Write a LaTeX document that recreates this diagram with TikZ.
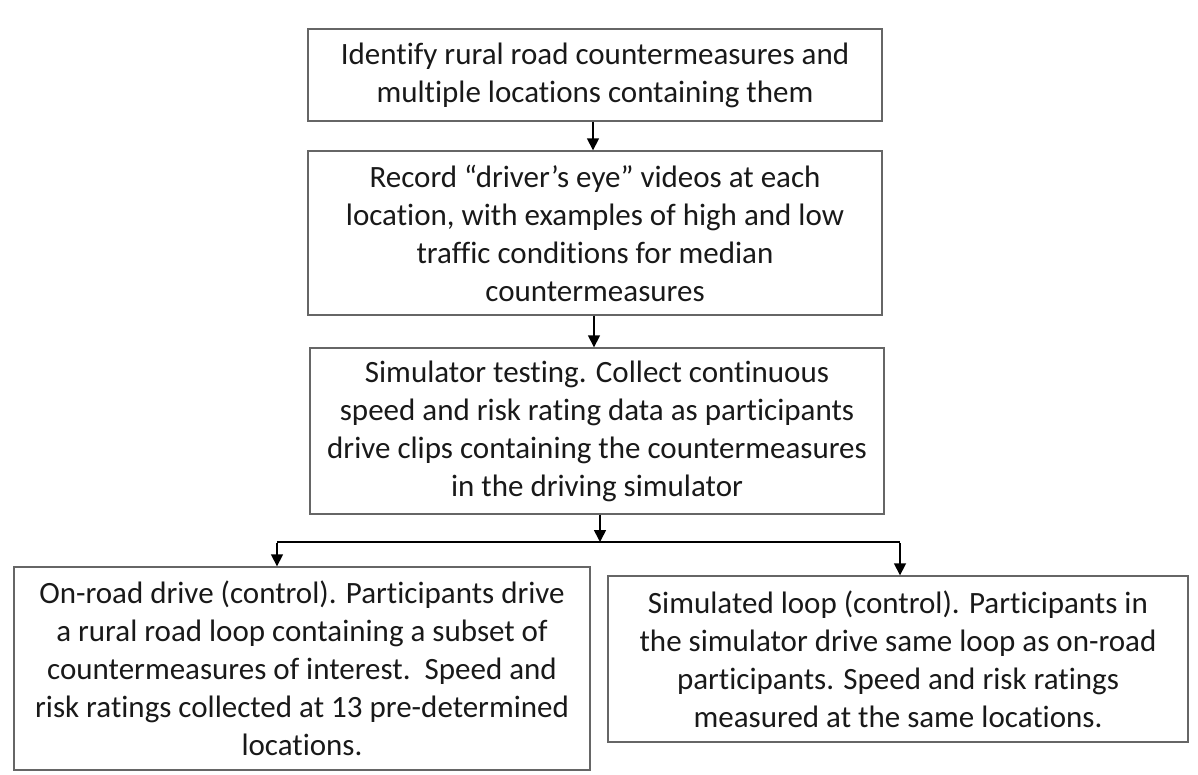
\documentclass[tikz,border=0pt]{standalone}
\usepackage{fontspec}
\setmainfont{Carlito}[Ligatures=NoCommon]
\usetikzlibrary{arrows.meta}
\begin{document}
\begin{tikzpicture}[x=1pt,y=-1pt,
  box/.style={draw=black!60,line width=1.4pt,align=center,inner sep=0pt,
    font=\fontsize{31}{38}\selectfont,text=black!90},
  conn/.style={line width=1.6pt,-{Triangle[length=12pt,width=12pt]}},
  plain/.style={line width=1.6pt}]
\useasboundingbox (0,0) rectangle (1198,774);
\node[box,minimum width=574pt,minimum height=92pt] (b1) at (595,75)
 {Identify rural road countermeasures and\\multiple locations containing them};
\node[box,minimum width=574pt,minimum height=164pt] (b2) at (595,233)
 {Record “driver’s eye” videos at each\\location, with examples of high and low\\traffic conditions for median\\countermeasures};
\node[box,minimum width=574pt,minimum height=166pt] (b3) at (597,431)
 {Simulator testing. Collect continuous\\speed and risk rating data as participants\\drive clips containing the countermeasures\\in the driving simulator};
\node[box,minimum width=576pt,minimum height=203pt] (b4) at (302,668.5)
 {On-road drive (control). Participants drive\\a rural road loop containing a subset of\\countermeasures of interest.\ \ Speed and\\risk ratings collected at 13 pre-determined\\locations.};
\node[box,minimum width=580pt,minimum height=166pt] (b5) at (898,659)
 {Simulated loop (control). Participants in\\the simulator drive same loop as on-road\\participants. Speed and risk ratings\\measured at the same locations.};
\coordinate (jm) at (600,542);
\coordinate (jl) at (277,542);
\coordinate (jr) at (900,542);
\draw[conn] (b1.south -| 593,0) -- (b2.north -| 593,0);
\draw[conn] (b2.south -| 594,0) -- (b3.north -| 594,0);
\draw[conn] (b3.south -| jm) -- (jm);
\draw[plain] (jl) -- (jr);
\draw[conn] ([yshift=-0.8pt]jl) -- (jl |- b4.north);
\draw[conn] ([yshift=-0.8pt]jr) -- (jr |- b5.north);
\end{tikzpicture}
\end{document}
